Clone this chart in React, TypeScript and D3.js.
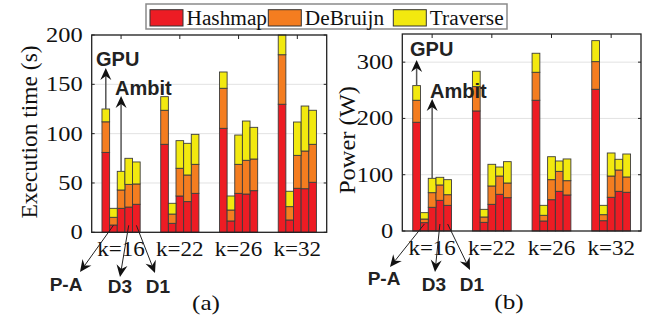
import React from "react";
import * as d3 from "d3";

const categories = ["k=16", "k=22", "k=26", "k=32"];
const platforms = ["GPU", "P-A", "Ambit", "D3", "D1"];
const seriesNames = ["Hashmap", "DeBruijn", "Traverse"];
const seriesColors = ["#ED1C24", "#F47D20", "#F2E90F"];

// Execution time (s): rows = k, columns = platform
const timeHashmap = [
  [81.0, 7.4, 24.3, 25.6, 28.4],
  [89.2, 9.1, 36.8, 31.1, 39.5],
  [105.4, 11.5, 39.5, 38.8, 42.2],
  [129.8, 12.5, 44.6, 44.2, 50.7],
];
const timeDeBruijn = [
  [31.0, 7.8, 18.6, 23.0, 20.6],
  [34.5, 9.4, 28.1, 27.0, 29.4],
  [40.6, 11.1, 29.4, 34.2, 32.1],
  [50.2, 13.5, 33.4, 38.2, 38.5],
];
const timeTraverse = [
  [13.0, 9.1, 18.9, 26.4, 22.3],
  [13.8, 10.9, 28.0, 32.1, 30.4],
  [16.5, 14.2, 29.7, 39.8, 32.1],
  [20.0, 15.6, 33.8, 45.6, 34.5],
];
// Power (W)
const powerHashmap = [
  [193.2, 14.8, 42.1, 54.5, 45.6],
  [213.3, 15.4, 47.4, 65.2, 59.2],
  [232.3, 17.8, 55.6, 70.5, 64.0],
  [251.8, 18.3, 59.9, 70.5, 68.8],
];
const powerDeBruijn = [
  [39.1, 6.5, 26.0, 27.3, 18.9],
  [43.2, 9.5, 32.6, 32.5, 26.1],
  [49.7, 10.1, 35.6, 35.5, 25.4],
  [49.1, 10.7, 37.8, 37.9, 27.2],
];
const powerTraverse = [
  [26.0, 11.3, 25.5, 13.6, 26.7],
  [27.3, 13.6, 38.5, 16.0, 37.9],
  [33.8, 17.7, 40.8, 18.4, 38.6],
  [37.3, 16.6, 40.9, 19.0, 40.8],
];
const timeTicks = [0, 50, 100, 150, 200];
const powerTicks = [0, 100, 200, 300];

const SERIF = "'Liberation Serif', 'Times New Roman', serif";
const SANS = "'Liberation Sans', Arial, sans-serif";

function ST({ x, y, sx = 1.15, size = 20, anchor = "middle", rotate = 0, children }: any) {
  return (
    <text
      transform={`translate(${x},${y}) rotate(${rotate}) scale(${sx},1)`}
      fontFamily={SERIF}
      fontSize={size}
      textAnchor={anchor}
      fill="#111"
    >
      {children}
    </text>
  );
}

function Arrow({ x1, y1, x2, y2, color = "#222", width = 1 }: any) {
  const dx = x2 - x1, dy = y2 - y1;
  const L = Math.hypot(dx, dy);
  const ux = dx / L, uy = dy / L;
  const px = -uy, py = ux;
  const len = 12, hw = 5.5, notch = 8;
  const bx = x2 - ux * len, by = y2 - uy * len;
  const nx = x2 - ux * notch, ny = y2 - uy * notch;
  const pts = [
    [x2, y2],
    [bx + px * hw, by + py * hw],
    [nx, ny],
    [bx - px * hw, by - py * hw],
  ];
  return (
    <g>
      <line x1={x1} y1={y1} x2={nx} y2={ny} stroke={color} strokeWidth={width} />
      <polygon points={pts.map((p) => p.join(",")).join(" ")} fill="#111" />
    </g>
  );
}

function Panel(props: any) {
  const { left, right, top, bottom, yMax, ticks, hash, deb, trav, yLabel, yLabelX, yLabelY, yLabelSize, panelLabel, panelX, ann } = props;
  const x = d3.scaleBand().domain(categories).range([left, right]).paddingInner(0.35).paddingOuter(0.175);
  const xi = d3.scaleBand().domain(platforms).range([0, x.bandwidth()]);
  const y = d3.scaleLinear().domain([0, yMax]).range([bottom, top]);

  const rows: any[] = [];
  categories.forEach((k, i) =>
    platforms.forEach((p, j) => {
      rows.push({ k, p, Hashmap: hash[i][j], DeBruijn: deb[i][j], Traverse: trav[i][j] });
    })
  );
  const stacked = d3.stack().keys(seriesNames)(rows as any);
  const cx = (k: string, p: string) => (x(k) as number) + (xi(p) as number) + xi.bandwidth() / 2;
  const total = (i: number, j: number) => hash[i][j] + deb[i][j] + trav[i][j];

  return (
    <g>
      {ticks.filter((t: number) => t > 0).map((t: number) => (
        <line key={"g" + t} x1={left} x2={right} y1={y(t)} y2={y(t)} stroke="#e2e2e2" strokeWidth={1} />
      ))}
      {stacked.map((s: any, si: number) =>
        s.map((d: any, di: number) => (
          <rect
            key={si + "-" + di}
            x={(x(d.data.k) as number) + (xi(d.data.p) as number)}
            width={xi.bandwidth()}
            y={y(d[1])}
            height={y(d[0]) - y(d[1])}
            fill={seriesColors[si]}
            stroke="#3c3c3c"
            strokeWidth={0.9}
          />
        ))
      )}
      <rect x={left} y={top} width={right - left} height={bottom - top} fill="none" stroke="#222" strokeWidth={1.3} />
      {categories.map((k) => (
        <g key={"t" + k}>
          <line x1={(x(k) as number) + x.bandwidth() / 2} x2={(x(k) as number) + x.bandwidth() / 2} y1={top} y2={top + 4} stroke="#222" />
          <ST x={(x(k) as number) + x.bandwidth() / 2} y={bottom + 24} sx={1.15}>{k}</ST>
        </g>
      ))}
      {ticks.map((t: number) => (
        <g key={"yt" + t}>
          <line x1={left} x2={left + 3} y1={y(t)} y2={y(t)} stroke="#222" />
          <line x1={right - 3} x2={right} y1={y(t)} y2={y(t)} stroke="#222" />
          <ST x={left - 9} y={y(t) + 7} anchor="end" sx={1.22}>{t}</ST>
        </g>
      ))}
      <ST x={yLabelX} y={yLabelY} rotate={-90} size={yLabelSize} sx={1.02}>{yLabel}</ST>
      <ST x={panelX} y={bottom + 78} size={21} sx={1.2}>{panelLabel}</ST>

      {/* GPU / Ambit annotations */}
      <Arrow x1={cx("k=16", "GPU")} y1={y(total(0, 0))} x2={cx("k=16", "GPU")} y2={ann.gpuTip} color="#555" width={1.5} />
      <text x={ann.gpuX} y={ann.gpuY} fontFamily={SANS} fontWeight="bold" fontSize={20} fill="#222">GPU</text>
      <Arrow x1={cx("k=16", "Ambit")} y1={y(total(0, 2))} x2={cx("k=16", "Ambit")} y2={ann.ambitTip} color="#555" width={1.5} />
      <text x={ann.ambitX} y={ann.ambitY} fontFamily={SANS} fontWeight="bold" fontSize={20} fill="#222">Ambit</text>

      {/* bottom annotations */}
      {ann.bottom.map((b: any) => (
        <g key={b.p}>
          <Arrow x1={cx("k=16", b.p)} y1={bottom - 7} x2={b.tx} y2={b.ty} color="#222" width={1} />
          <text x={b.lx} y={b.ly} textAnchor="middle" fontFamily={SANS} fontWeight="bold" fontSize={19} fill="#222">{b.p}</text>
        </g>
      ))}
    </g>
  );
}

export default function App() {
  return (
    <svg width={651} height={320} style={{ display: "block", position: "absolute", left: 0, top: 0, background: "#fff" }}>
      <rect x={0} y={0} width={651} height={320} fill="#fff" />
      <Panel
        left={91.7} right={326.7} top={35} bottom={232.3}
        yMax={200} ticks={timeTicks}
        hash={timeHashmap} deb={timeDeBruijn} trav={timeTraverse}
        yLabel="Execution time (s)" yLabelX={37} yLabelY={132} yLabelSize={23}
        panelLabel="(a)" panelX={206}
        ann={{
          gpuTip: 68, gpuX: 96, gpuY: 66, ambitTip: 96, ambitX: 115, ambitY: 95,
          bottom: [
            { p: "P-A", tx: 80, ty: 272, lx: 66, ly: 291 },
            { p: "D3", tx: 120, ty: 277, lx: 120, ly: 293 },
            { p: "D1", tx: 155, ty: 273, lx: 158, ly: 293 },
          ],
        }}
      />
      <Panel
        left={402.3} right={641} top={34} bottom={231}
        yMax={350} ticks={powerTicks}
        hash={powerHashmap} deb={powerDeBruijn} trav={powerTraverse}
        yLabel="Power (W)" yLabelX={355} yLabelY={140} yLabelSize={24}
        panelLabel="(b)" panelX={509}
        ann={{
          gpuTip: 60, gpuX: 410, gpuY: 56, ambitTip: 99, ambitX: 430, ambitY: 98,
          bottom: [
            { p: "P-A", tx: 390, ty: 267, lx: 384, ly: 285 },
            { p: "D3", tx: 435, ty: 272, lx: 434, ly: 291 },
            { p: "D1", tx: 470, ty: 270, lx: 472, ly: 291 },
          ],
        }}
      />
      {/* legend */}
      <g>
        <rect x={146} y={4} width={361} height={25} fill="#fff" stroke="#8a8a8a" strokeWidth={1.5} />
        {seriesNames.map((s, i) => {
          const sxs = [150, 268.3, 393.3][i];
          return (
            <g key={s}>
              <rect x={sxs} y={9.7} width={33} height={16.3} fill={seriesColors[i]} stroke="#333" strokeWidth={1} />
              <ST x={sxs + 36.5} y={25} anchor="start" size={20.5} sx={1.04}>{s}</ST>
            </g>
          );
        })}
      </g>
    </svg>
  );
}
